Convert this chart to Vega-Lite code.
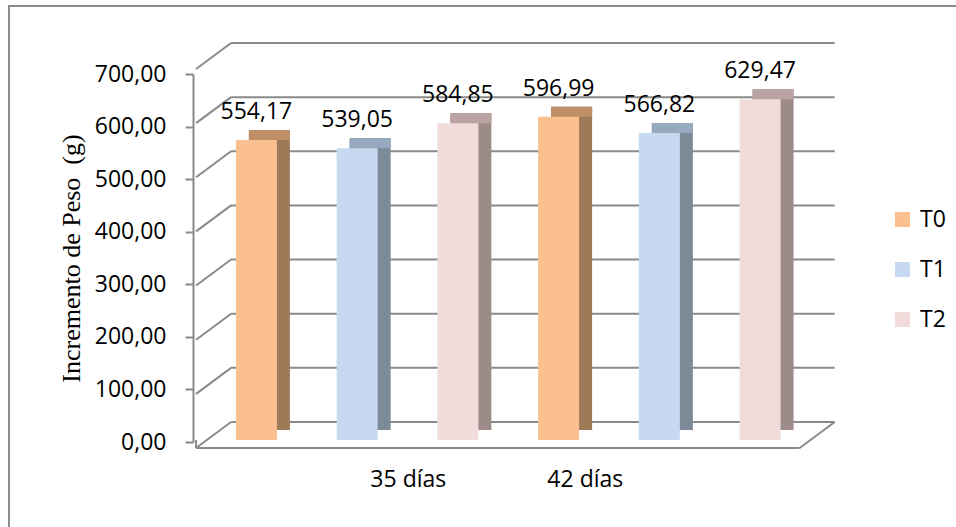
{
  "$schema": "https://vega.github.io/schema/vega-lite/v6.json",
  "width": 955,
  "height": 524,
  "autosize": "none",
  "padding": {"left": 9, "top": 6, "right": -8, "bottom": -3},
  "background": "white",
  "config": {
    "view": {"stroke": "#8c8c8c", "strokeWidth": 2},
    "locale": {"number": {"decimal": ",", "thousands": ".", "grouping": [3], "currency": ["", " €"]}}
  },
  "datasets": {
    "bars": [
      {"pos": 1, "dia": "35 días", "serie": "T0", "value": 554.17},
      {"pos": 2, "dia": "35 días", "serie": "T1", "value": 539.05},
      {"pos": 3, "dia": "35 días", "serie": "T2", "value": 584.85},
      {"pos": 4, "dia": "42 días", "serie": "T0", "value": 596.99},
      {"pos": 5, "dia": "42 días", "serie": "T1", "value": 566.82},
      {"pos": 6, "dia": "42 días", "serie": "T2", "value": 629.47}
    ],
    "grid": [{"v": 0}, {"v": 100}, {"v": 200}, {"v": 300}, {"v": 400}, {"v": 500}, {"v": 600}, {"v": 700}],
    "walls": [{"v": 100}, {"v": 200}, {"v": 300}, {"v": 400}, {"v": 500}, {"v": 600}, {"v": 700}],
    "floor": [{"v": 0}]
  },
  "layer": [
    {
      "layer": [
        {
          "data": {"name": "grid"},
          "mark": {"type": "rule", "color": "#8a8a8a", "strokeWidth": 2, "xOffset": 35, "x2Offset": 35, "yOffset": -18},
          "encoding": {
            "x": {"datum": 0.401, "type": "quantitative", "scale": {"domain": [-1.4065, 7.9747], "nice": false, "zero": false},
              "axis": {"values": [2.503, 4.26], "labelExpr": "datum.value < 3 ? '35 días' : '42 días'", "offset": -90, "domain": false, "ticks": false, "grid": false, "title": null, "labelFont": "Open Sans", "labelFontSize": 23, "labelColor": "#000000", "labelPadding": 28, "labelFlush": false, "labelOverlap": false}},
            "x2": {"datum": 6.393},
            "y": {"field": "v", "type": "quantitative", "scale": {"domain": [-166.23, 801.58], "nice": false, "zero": false}, "axis": null}
          }
        },
        {
          "data": {"name": "walls"},
          "mark": {"type": "rule", "color": "#8a8a8a", "strokeWidth": 2, "x2Offset": 35, "yOffset": 8, "y2Offset": -18},
          "encoding": {
            "x": {"datum": 0.401, "type": "quantitative", "scale": {"domain": [-1.4065, 7.9747], "nice": false, "zero": false},
              "axis": {"values": [2.503, 4.26], "labelExpr": "datum.value < 3 ? '35 días' : '42 días'", "offset": -90, "domain": false, "ticks": false, "grid": false, "title": null, "labelFont": "Open Sans", "labelFontSize": 23, "labelColor": "#000000", "labelPadding": 28, "labelFlush": false, "labelOverlap": false}},
            "x2": {"datum": 0.401},
            "y": {"field": "v", "type": "quantitative", "scale": {"domain": [-166.23, 801.58], "nice": false, "zero": false}, "axis": null},
            "y2": {"field": "v"}
          }
        },
        {
          "data": {"name": "floor"},
          "mark": {"type": "rule", "color": "#8a8a8a", "strokeWidth": 2, "yOffset": 8, "y2Offset": 8},
          "encoding": {
            "x": {"datum": 0.401, "type": "quantitative", "scale": {"domain": [-1.4065, 7.9747], "nice": false, "zero": false},
              "axis": {"values": [2.503, 4.26], "labelExpr": "datum.value < 3 ? '35 días' : '42 días'", "offset": -90, "domain": false, "ticks": false, "grid": false, "title": null, "labelFont": "Open Sans", "labelFontSize": 23, "labelColor": "#000000", "labelPadding": 28, "labelFlush": false, "labelOverlap": false}},
            "x2": {"datum": 6.393},
            "y": {"field": "v", "type": "quantitative", "scale": {"domain": [-166.23, 801.58], "nice": false, "zero": false}, "axis": null},
            "y2": {"field": "v"}
          }
        },
        {
          "data": {"name": "floor"},
          "mark": {"type": "rule", "color": "#8a8a8a", "strokeWidth": 2, "x2Offset": 35, "yOffset": 8, "y2Offset": -18},
          "encoding": {
            "x": {"datum": 0.401, "type": "quantitative", "scale": {"domain": [-1.4065, 7.9747], "nice": false, "zero": false},
              "axis": {"values": [2.503, 4.26], "labelExpr": "datum.value < 3 ? '35 días' : '42 días'", "offset": -90, "domain": false, "ticks": false, "grid": false, "title": null, "labelFont": "Open Sans", "labelFontSize": 23, "labelColor": "#000000", "labelPadding": 28, "labelFlush": false, "labelOverlap": false}},
            "x2": {"datum": 0.401},
            "y": {"field": "v", "type": "quantitative", "scale": {"domain": [-166.23, 801.58], "nice": false, "zero": false}, "axis": null},
            "y2": {"field": "v"}
          }
        },
        {
          "data": {"name": "floor"},
          "mark": {"type": "rule", "color": "#8a8a8a", "strokeWidth": 2, "x2Offset": 35, "yOffset": 8, "y2Offset": -18},
          "encoding": {
            "x": {"datum": 6.393, "type": "quantitative", "scale": {"domain": [-1.4065, 7.9747], "nice": false, "zero": false},
              "axis": {"values": [2.503, 4.26], "labelExpr": "datum.value < 3 ? '35 días' : '42 días'", "offset": -90, "domain": false, "ticks": false, "grid": false, "title": null, "labelFont": "Open Sans", "labelFontSize": 23, "labelColor": "#000000", "labelPadding": 28, "labelFlush": false, "labelOverlap": false}},
            "x2": {"datum": 6.393},
            "y": {"field": "v", "type": "quantitative", "scale": {"domain": [-166.23, 801.58], "nice": false, "zero": false}, "axis": null},
            "y2": {"field": "v"}
          }
        },
        {
          "data": {"name": "floor"},
          "mark": {"type": "rule", "color": "#8a8a8a", "strokeWidth": 2, "yOffset": 8},
          "encoding": {
            "x": {"datum": 0.401, "type": "quantitative", "scale": {"domain": [-1.4065, 7.9747], "nice": false, "zero": false},
              "axis": {"values": [2.503, 4.26], "labelExpr": "datum.value < 3 ? '35 días' : '42 días'", "offset": -90, "domain": false, "ticks": false, "grid": false, "title": null, "labelFont": "Open Sans", "labelFontSize": 23, "labelColor": "#000000", "labelPadding": 28, "labelFlush": false, "labelOverlap": false}},
            "y": {"field": "v", "type": "quantitative", "scale": {"domain": [-166.23, 801.58], "nice": false, "zero": false}, "axis": null},
            "y2": {"field": "v"}
          }
        },
        {
          "data": {"name": "bars"},
          "mark": {"type": "bar", "orient": "vertical", "width": 41, "xOffset": 13, "yOffset": -10, "y2Offset": -10},
          "encoding": {
            "x": {"field": "pos", "type": "quantitative", "scale": {"domain": [-1.4065, 7.9747], "nice": false, "zero": false},
              "axis": {"values": [2.503, 4.26], "labelExpr": "datum.value < 3 ? '35 días' : '42 días'", "offset": -90, "domain": false, "ticks": false, "grid": false, "title": null, "labelFont": "Open Sans", "labelFontSize": 23, "labelColor": "#000000", "labelPadding": 28, "labelFlush": false, "labelOverlap": false}},
            "y": {"field": "value", "type": "quantitative", "scale": {"domain": [-166.23, 801.58], "nice": false, "zero": false}, "axis": null},
            "y2": {"datum": 0},
            "color": {"field": "serie", "type": "nominal", "scale": {"domain": ["T0", "T1", "T2"], "range": ["#9F7A58", "#7D8B99", "#9D8B8A"]}, "legend": null}
          }
        },
        {
          "data": {"name": "bars"},
          "mark": {"type": "bar", "orient": "vertical", "width": 41, "xOffset": 13, "yOffset": -10},
          "encoding": {
            "x": {"field": "pos", "type": "quantitative", "scale": {"domain": [-1.4065, 7.9747], "nice": false, "zero": false},
              "axis": {"values": [2.503, 4.26], "labelExpr": "datum.value < 3 ? '35 días' : '42 días'", "offset": -90, "domain": false, "ticks": false, "grid": false, "title": null, "labelFont": "Open Sans", "labelFontSize": 23, "labelColor": "#000000", "labelPadding": 28, "labelFlush": false, "labelOverlap": false}},
            "y": {"field": "value", "type": "quantitative", "scale": {"domain": [-166.23, 801.58], "nice": false, "zero": false}, "axis": null},
            "y2": {"field": "value"},
            "color": {"field": "serie", "type": "nominal", "scale": {"domain": ["T0", "T1", "T2"], "range": ["#BF9068", "#97A9BE", "#BBA5A4"]}, "legend": null}
          }
        },
        {
          "data": {"name": "bars"},
          "mark": {"type": "bar", "orient": "vertical", "width": 41},
          "encoding": {
            "x": {"field": "pos", "type": "quantitative", "scale": {"domain": [-1.4065, 7.9747], "nice": false, "zero": false},
              "axis": {"values": [2.503, 4.26], "labelExpr": "datum.value < 3 ? '35 días' : '42 días'", "offset": -90, "domain": false, "ticks": false, "grid": false, "title": null, "labelFont": "Open Sans", "labelFontSize": 23, "labelColor": "#000000", "labelPadding": 28, "labelFlush": false, "labelOverlap": false}},
            "y": {"field": "value", "type": "quantitative", "scale": {"domain": [-166.23, 801.58], "nice": false, "zero": false}, "axis": null},
            "y2": {"datum": 0},
            "color": {
              "field": "serie", "type": "nominal",
              "scale": {"domain": ["T0", "T1", "T2"], "range": ["#FAC090", "#C6D9F1", "#F2DCDB"]},
              "legend": {
                "title": null, "orient": "none", "legendX": 882, "legendY": 202,
                "symbolType": "square", "symbolSize": 225, "symbolStrokeWidth": 0,
                "labelFont": "Open Sans", "labelFontSize": 23, "labelColor": "#000000",
                "labelOffset": 6, "rowPadding": 26
              }
            }
          }
        },
        {
          "data": {"name": "bars"},
          "mark": {"type": "text", "font": "Open Sans", "fontSize": 23, "color": "#000000", "baseline": "middle", "dy": -28},
          "encoding": {
            "x": {"field": "pos", "type": "quantitative", "scale": {"domain": [-1.4065, 7.9747], "nice": false, "zero": false},
              "axis": {"values": [2.503, 4.26], "labelExpr": "datum.value < 3 ? '35 días' : '42 días'", "offset": -90, "domain": false, "ticks": false, "grid": false, "title": null, "labelFont": "Open Sans", "labelFontSize": 23, "labelColor": "#000000", "labelPadding": 28, "labelFlush": false, "labelOverlap": false}},
            "y": {"field": "value", "type": "quantitative", "scale": {"domain": [-166.23, 801.58], "nice": false, "zero": false}, "axis": null},
            "text": {"field": "value", "type": "quantitative", "format": ".2f"}
          }
        }
      ],
      "resolve": {"scale": {"color": "independent"}}
    },
    {
      "data": {"name": "grid"},
      "mark": {"type": "rule", "opacity": 0},
      "encoding": {
        "y": {
          "field": "v", "type": "quantitative",
          "scale": {"domain": [0, 700], "range": [436, 68], "nice": false},
          "axis": {
            "orient": "left",
            "offset": -184,
            "values": [0, 100, 200, 300, 400, 500, 600, 700],
            "format": ".2f",
            "grid": false,
            "domainColor": "#8a8a8a", "domainWidth": 2,
            "tickColor": "#8a8a8a", "tickWidth": 2, "tickSize": 8,
            "labelFont": "Open Sans", "labelFontSize": 23, "labelColor": "#000000", "labelPadding": 19,
            "title": "Incremento de Peso\u00a0\u00a0(g)",
            "titleFont": "Liberation Serif", "titleFontSize": 26, "titleFontWeight": "normal", "titleColor": "#000000",
            "titlePadding": 10
          }
        }
      }
    }
  ],
  "resolve": {"scale": {"y": "independent"}}
}
